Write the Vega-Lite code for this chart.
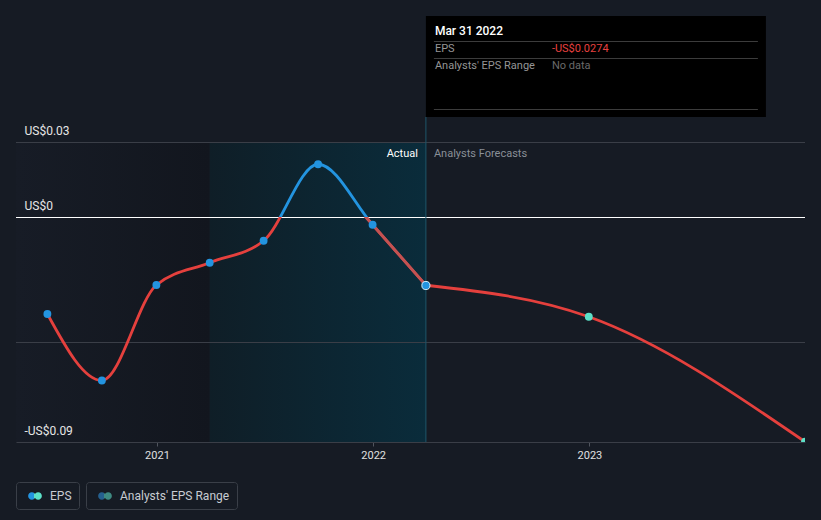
{
  "$schema": "https://vega.github.io/schema/vega-lite/v6.json",
  "width": 789,
  "height": 442,
  "autosize": {"type": "none"},
  "padding": {"left": 16, "right": 16, "top": 0, "bottom": 78},
  "background": "#161b24",
  "config": {
    "view": {"stroke": null},
    "font": "Roboto",
    "axis": {"labelFont": "Roboto"},
    "text": {"font": "Roboto"}
  },
  "datasets": {
    "actual": [
      {"date": "2020-06-30", "eps": -0.0388},
      {"date": "2020-09-30", "eps": -0.0654},
      {"date": "2020-12-31", "eps": -0.0272},
      {"date": "2021-03-31", "eps": -0.0183},
      {"date": "2021-06-30", "eps": -0.0095},
      {"date": "2021-09-30", "eps": 0.0211},
      {"date": "2021-12-31", "eps": -0.0031},
      {"date": "2022-03-31", "eps": -0.0273}
    ],
    "recent": [
      {"date": "2021-09-30", "eps": 0.0211},
      {"date": "2021-12-31", "eps": -0.0031},
      {"date": "2022-03-31", "eps": -0.0273}
    ],
    "forecast": [
      {"date": "2022-03-31", "eps": -0.0273},
      {"date": "2022-12-31", "eps": -0.0399},
      {"date": "2023-12-31", "eps": -0.0899}
    ],
    "grid": [{"eps": 0.03}, {"eps": -0.05}],
    "tooltip": [{"date": "2022-03-31", "eps": -0.0274}]
  },
  "encoding": {
    "x": {
      "field": "date",
      "type": "temporal",
      "scale": {"domain": [{"year": 2020, "month": 5, "date": 8}, {"year": 2023, "month": 12, "date": 31}]},
      "axis": {
        "title": null,
        "values": [{"year": 2021, "month": 1, "date": 1}, {"year": 2022, "month": 1, "date": 1}, {"year": 2023, "month": 1, "date": 1}],
        "format": "%Y",
        "grid": false,
        "domainColor": "#3a3e47",
        "tickColor": "#50555e",
        "tickSize": 4,
        "labelColor": "#e0e0e0",
        "labelFontSize": 11,
        "labelPadding": 3,
        "labelFlush": false
      }
    },
    "y": {
      "field": "eps",
      "type": "quantitative",
      "scale": {"domain": [-0.09, 0.0868], "nice": false, "zero": false},
      "axis": {
        "title": null,
        "zindex": 1,
        "values": [-0.09, -0.05, 0, 0.03],
        "grid": false,
        "domain": false,
        "ticks": false,
        "labelAlign": "left",
        "labelBaseline": "middle",
        "labelPadding": -8,
        "labelOffset": -12,
        "labelColor": "#e6e6e6",
        "labelFontSize": 12,
        "labelExpr": "datum.value === 0 ? 'US$0' : (datum.value === -0.05 ? '' : (datum.value < 0 ? '-US$' + format(-datum.value, '.2f') : 'US$' + format(datum.value, '.2f')))"
      }
    }
  },
  "layer": [
    {
      "data": {"name": "tooltip"},
      "mark": {"type": "rect", "color": {"gradient": "linear", "x1": 0, "y1": 0, "x2": 1, "y2": 0, "stops": [{"offset": 0, "color": "#171c26"}, {"offset": 1, "color": "#12161e"}]}},
      "encoding": {
        "x": {"datum": {"year": 2020, "month": 5, "date": 8}},
        "x2": {"datum": {"year": 2021, "month": 3, "date": 31}},
        "y": {"datum": 0.03},
        "y2": {"datum": -0.09}
      }
    },
    {
      "data": {"name": "tooltip"},
      "mark": {"type": "rect", "color": {"gradient": "linear", "x1": 0, "y1": 0, "x2": 1, "y2": 0, "stops": [{"offset": 0, "color": "#0f1e27"}, {"offset": 1, "color": "#0a2c3b"}]}},
      "encoding": {
        "x": {"datum": {"year": 2021, "month": 3, "date": 31}},
        "x2": {"field": "date"},
        "y": {"datum": 0.03},
        "y2": {"datum": -0.09}
      }
    },
    {
      "data": {"name": "grid"},
      "mark": {"type": "rule", "color": "#3a3e47", "strokeWidth": 1, "yOffset": 0.5},
      "encoding": {"x": null}
    },
    {
      "data": {"name": "tooltip"},
      "mark": {"type": "rule", "color": "#ffffff", "strokeWidth": 1, "yOffset": 0.5},
      "encoding": {"x": null, "y": {"datum": 0}}
    },
    {
      "data": {"name": "tooltip"},
      "mark": {"type": "rule", "color": "#1e566a", "strokeWidth": 1},
      "encoding": {"y": {"datum": 0.04}, "y2": {"datum": -0.09}}
    },
    {
      "data": {"name": "actual"},
      "mark": {
        "type": "line",
        "interpolate": "monotone",
        "strokeWidth": 2.8,
        "stroke": {"gradient": "linear", "x1": 0, "y1": 0, "x2": 0, "y2": 1, "stops": [{"offset": 0, "color": "#2394e0"}, {"offset": 0.2439, "color": "#2394e0"}, {"offset": 0.2439, "color": "#e5403d"}, {"offset": 1, "color": "#e5403d"}]}
      }
    },
    {
      "data": {"name": "recent"},
      "mark": {
        "type": "line",
        "interpolate": "monotone",
        "strokeWidth": 2.8,
        "stroke": {"gradient": "linear", "x1": 0, "y1": 0, "x2": 0, "y2": 1, "stops": [{"offset": 0, "color": "rgba(0,0,0,0)"}, {"offset": 0.436, "color": "rgba(0,0,0,0)"}, {"offset": 0.436, "color": "#c45252"}, {"offset": 1, "color": "#c45252"}]}
      }
    },
    {
      "data": {"name": "forecast"},
      "mark": {"type": "line", "interpolate": "monotone", "strokeWidth": 2.8, "color": "#e5403d", "clip": true}
    },
    {
      "data": {"name": "actual"},
      "mark": {"type": "point", "filled": true, "size": 62, "opacity": 1, "color": "#2394e0"}
    },
    {
      "data": {"name": "forecast"},
      "transform": [{"filter": "datum.eps < -0.03"}],
      "mark": {"type": "point", "filled": true, "size": 62, "opacity": 1, "color": "#5ce1c8", "clip": true}
    },
    {
      "data": {"name": "tooltip"},
      "mark": {"type": "point", "filled": true, "size": 66, "opacity": 1, "fill": "#2394e0", "stroke": "#d8eef8", "strokeWidth": 1}
    },
    {
      "data": {"name": "tooltip"},
      "mark": {"type": "text", "text": "Actual", "align": "right", "baseline": "middle", "dx": -8, "fontSize": 11, "color": "#ffffff"},
      "encoding": {"y": {"datum": 0.0252}}
    },
    {
      "data": {"name": "tooltip"},
      "mark": {"type": "text", "text": "Analysts Forecasts", "align": "left", "baseline": "middle", "dx": 8, "fontSize": 11, "color": "#8a8f97"},
      "encoding": {"y": {"datum": 0.0252}}
    },
    {
      "data": {"name": "tooltip"},
      "mark": {"type": "rect", "fill": "#000000"},
      "encoding": {
        "x2": {"datum": {"year": 2023, "month": 10, "date": 26}},
        "y": {"datum": 0.0804},
        "y2": {"datum": 0.04}
      }
    },
    {
      "data": {"name": "tooltip"},
      "mark": {"type": "rule", "color": "#3c3c3c", "strokeWidth": 1, "xOffset": 8, "x2Offset": 332, "yOffset": 0.5},
      "encoding": {"x2": {"field": "date"}, "y": {"datum": 0.0704}}
    },
    {
      "data": {"name": "tooltip"},
      "mark": {"type": "rule", "color": "#3c3c3c", "strokeWidth": 1, "xOffset": 8, "x2Offset": 332, "yOffset": 0.5},
      "encoding": {"x2": {"field": "date"}, "y": {"datum": 0.0636}}
    },
    {
      "data": {"name": "tooltip"},
      "mark": {"type": "rule", "color": "#3c3c3c", "strokeWidth": 1, "xOffset": 8, "x2Offset": 332, "yOffset": 0.5},
      "encoding": {"x2": {"field": "date"}, "y": {"datum": 0.0432}}
    },
    {
      "data": {"name": "tooltip"},
      "mark": {"type": "text", "align": "left", "baseline": "middle", "dx": 9, "dy": 15, "fontSize": 12, "fontWeight": 500, "color": "#ffffff"},
      "encoding": {"y": {"datum": 0.0804}, "text": {"field": "date", "type": "temporal", "format": "%b %d %Y"}}
    },
    {
      "data": {"name": "tooltip"},
      "mark": {"type": "text", "text": "EPS", "align": "left", "baseline": "middle", "dx": 9, "dy": 33, "fontSize": 11, "color": "#959595"},
      "encoding": {"y": {"datum": 0.0804}}
    },
    {
      "data": {"name": "tooltip"},
      "mark": {"type": "text", "text": "-US$0.0274", "align": "left", "baseline": "middle", "dx": 126, "dy": 33, "fontSize": 11, "color": "#e8403f"},
      "encoding": {"y": {"datum": 0.0804}}
    },
    {
      "data": {"name": "tooltip"},
      "mark": {"type": "text", "text": "Analysts' EPS Range", "align": "left", "baseline": "middle", "dx": 9, "dy": 50, "fontSize": 11, "color": "#959595"},
      "encoding": {"y": {"datum": 0.0804}}
    },
    {
      "data": {"name": "tooltip"},
      "mark": {"type": "text", "text": "No data", "align": "left", "baseline": "middle", "dx": 126, "dy": 50, "fontSize": 11, "color": "#6a6a6a"},
      "encoding": {"y": {"datum": 0.0804}}
    },
    {
      "data": {"values": [{}]},
      "mark": {"type": "point", "filled": true, "color": {"gradient": "linear", "x1": 0, "y1": 0, "x2": 1, "y2": 0, "stops": [{"offset": 0, "color": "#2394e0"}, {"offset": 0.46, "color": "#2394e0"}, {"offset": 0.46, "color": "#5ce1c8"}, {"offset": 1, "color": "#5ce1c8"}]}},
      "encoding": {
        "shape": {
          "datum": "EPS",
          "type": "nominal",
          "scale": {"range": ["M-0.98,0C-0.98,-0.293,-0.743,-0.53,-0.45,-0.53C-0.157,-0.53,0.08,-0.293,0.08,0C0.08,0.293,-0.157,0.53,-0.45,0.53C-0.743,0.53,-0.98,0.293,-0.98,0ZM-0.08,0C-0.08,-0.293,0.157,-0.53,0.45,-0.53C0.743,-0.53,0.98,-0.293,0.98,0C0.98,0.293,0.743,0.53,0.45,0.53C0.157,0.53,-0.08,0.293,-0.08,0Z"]},
          "legend": {
            "orient": "none", "legendX": 0, "legendY": 482, "title": null,
            "symbolSize": 196, "symbolOpacity": 1, "symbolStrokeWidth": 0, "symbolOffset": 5,
            "labelOffset": 8, "padding": 7, "strokeColor": "#3a3f48", "cornerRadius": 3,
            "labelColor": "#c8ccd2", "labelFontSize": 12, "labelFont": "Roboto"
          }
        }
      }
    },
    {
      "data": {"values": [{}]},
      "mark": {"type": "point", "filled": true, "color": {"gradient": "linear", "x1": 0, "y1": 0, "x2": 1, "y2": 0, "stops": [{"offset": 0, "color": "#25608f"}, {"offset": 0.46, "color": "#25608f"}, {"offset": 0.46, "color": "#3e8a82"}, {"offset": 1, "color": "#3e8a82"}]}},
      "encoding": {
        "opacity": {
          "datum": "Analysts' EPS Range",
          "type": "nominal",
          "scale": {"range": [1]},
          "legend": {
            "orient": "none", "legendX": 70, "legendY": 482, "title": null,
            "symbolType": "M-0.98,0C-0.98,-0.293,-0.743,-0.53,-0.45,-0.53C-0.157,-0.53,0.08,-0.293,0.08,0C0.08,0.293,-0.157,0.53,-0.45,0.53C-0.743,0.53,-0.98,0.293,-0.98,0ZM-0.08,0C-0.08,-0.293,0.157,-0.53,0.45,-0.53C0.743,-0.53,0.98,-0.293,0.98,0C0.98,0.293,0.743,0.53,0.45,0.53C0.157,0.53,-0.08,0.293,-0.08,0Z",
            "symbolSize": 196, "symbolStrokeWidth": 0, "symbolOffset": 5,
            "labelOffset": 8, "padding": 7, "strokeColor": "#3a3f48", "cornerRadius": 3,
            "labelColor": "#c8ccd2", "labelFontSize": 12, "labelFont": "Roboto"
          }
        }
      }
    }
  ]
}
